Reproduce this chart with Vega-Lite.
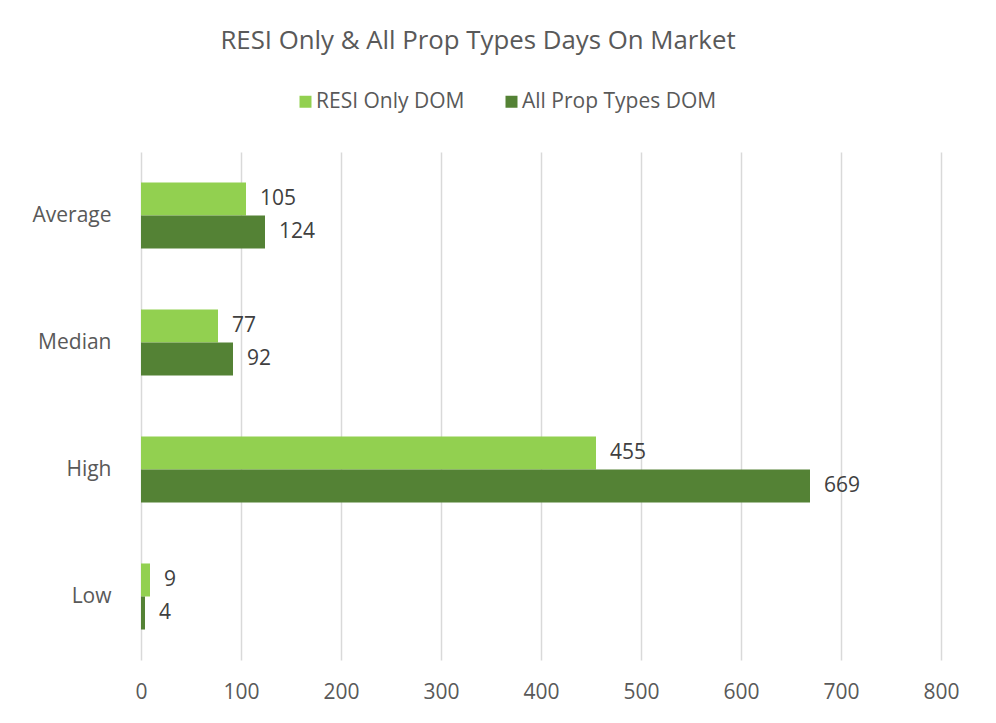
{
  "$schema": "https://vega.github.io/schema/vega-lite/v6.json",
  "width": 800,
  "height": 508,
  "autosize": {"type": "none"},
  "padding": {"left": 141, "top": 152, "right": 55, "bottom": 63},
  "background": "white",
  "title": {
    "text": "RESI Only & All Prop Types Days On Market",
    "anchor": "middle",
    "frame": "group",
    "font": "Open Sans",
    "fontSize": 25.8,
    "fontWeight": "normal",
    "color": "#595959",
    "dx": -63,
    "offset": 36
  },
  "data": {
    "values": [
      {"category": "Average", "series": "RESI Only DOM", "value": 105},
      {"category": "Average", "series": "All Prop Types DOM", "value": 124},
      {"category": "Median", "series": "RESI Only DOM", "value": 77},
      {"category": "Median", "series": "All Prop Types DOM", "value": 92},
      {"category": "High", "series": "RESI Only DOM", "value": 455},
      {"category": "High", "series": "All Prop Types DOM", "value": 669},
      {"category": "Low", "series": "RESI Only DOM", "value": 9},
      {"category": "Low", "series": "All Prop Types DOM", "value": 4}
    ]
  },
  "encoding": {
    "y": {
      "field": "category",
      "type": "nominal",
      "sort": ["Average", "Median", "High", "Low"],
      "scale": {"paddingInner": 0.48, "paddingOuter": 0.24},
      "axis": {
        "title": null,
        "ticks": false,
        "domain": false,
        "labelPadding": 30,
        "labelFont": "Open Sans",
        "labelFontSize": 21,
        "labelColor": "#595959"
      }
    },
    "yOffset": {
      "field": "series",
      "type": "nominal",
      "sort": ["RESI Only DOM", "All Prop Types DOM"],
      "scale": {"paddingInner": 0, "paddingOuter": 0}
    },
    "x": {
      "field": "value",
      "type": "quantitative",
      "scale": {"domain": [0, 800]},
      "axis": {
        "title": null,
        "values": [0, 100, 200, 300, 400, 500, 600, 700, 800],
        "ticks": false,
        "domain": false,
        "grid": true,
        "gridColor": "#d9d9d9",
        "gridWidth": 1.5,
        "labelFlush": false,
        "labelOverlap": false,
        "labelPadding": 21,
        "labelFont": "Open Sans",
        "labelFontSize": 21,
        "labelColor": "#595959"
      }
    }
  },
  "layer": [
    {
      "mark": {"type": "bar"},
      "encoding": {
        "color": {
          "field": "series",
          "type": "nominal",
          "scale": {
            "domain": ["RESI Only DOM", "All Prop Types DOM"],
            "range": ["#92D050", "#548235"]
          },
          "legend": {
            "title": null,
            "orient": "none",
            "direction": "horizontal",
            "legendX": 154,
            "legendY": -61,
            "symbolType": "square",
            "symbolSize": 144,
            "symbolStrokeWidth": 0,
            "labelFont": "Open Sans",
            "labelFontSize": 21,
            "labelColor": "#595959",
            "labelLimit": 400,
            "labelOffset": 0,
            "columnPadding": 36
          }
        }
      }
    },
    {
      "mark": {
        "type": "text",
        "align": "left",
        "baseline": "middle",
        "dx": 14,
        "font": "Open Sans",
        "fontSize": 21,
        "color": "#404040"
      },
      "encoding": {
        "text": {"field": "value", "type": "quantitative"}
      }
    }
  ],
  "config": {
    "view": {"stroke": null}
  }
}
